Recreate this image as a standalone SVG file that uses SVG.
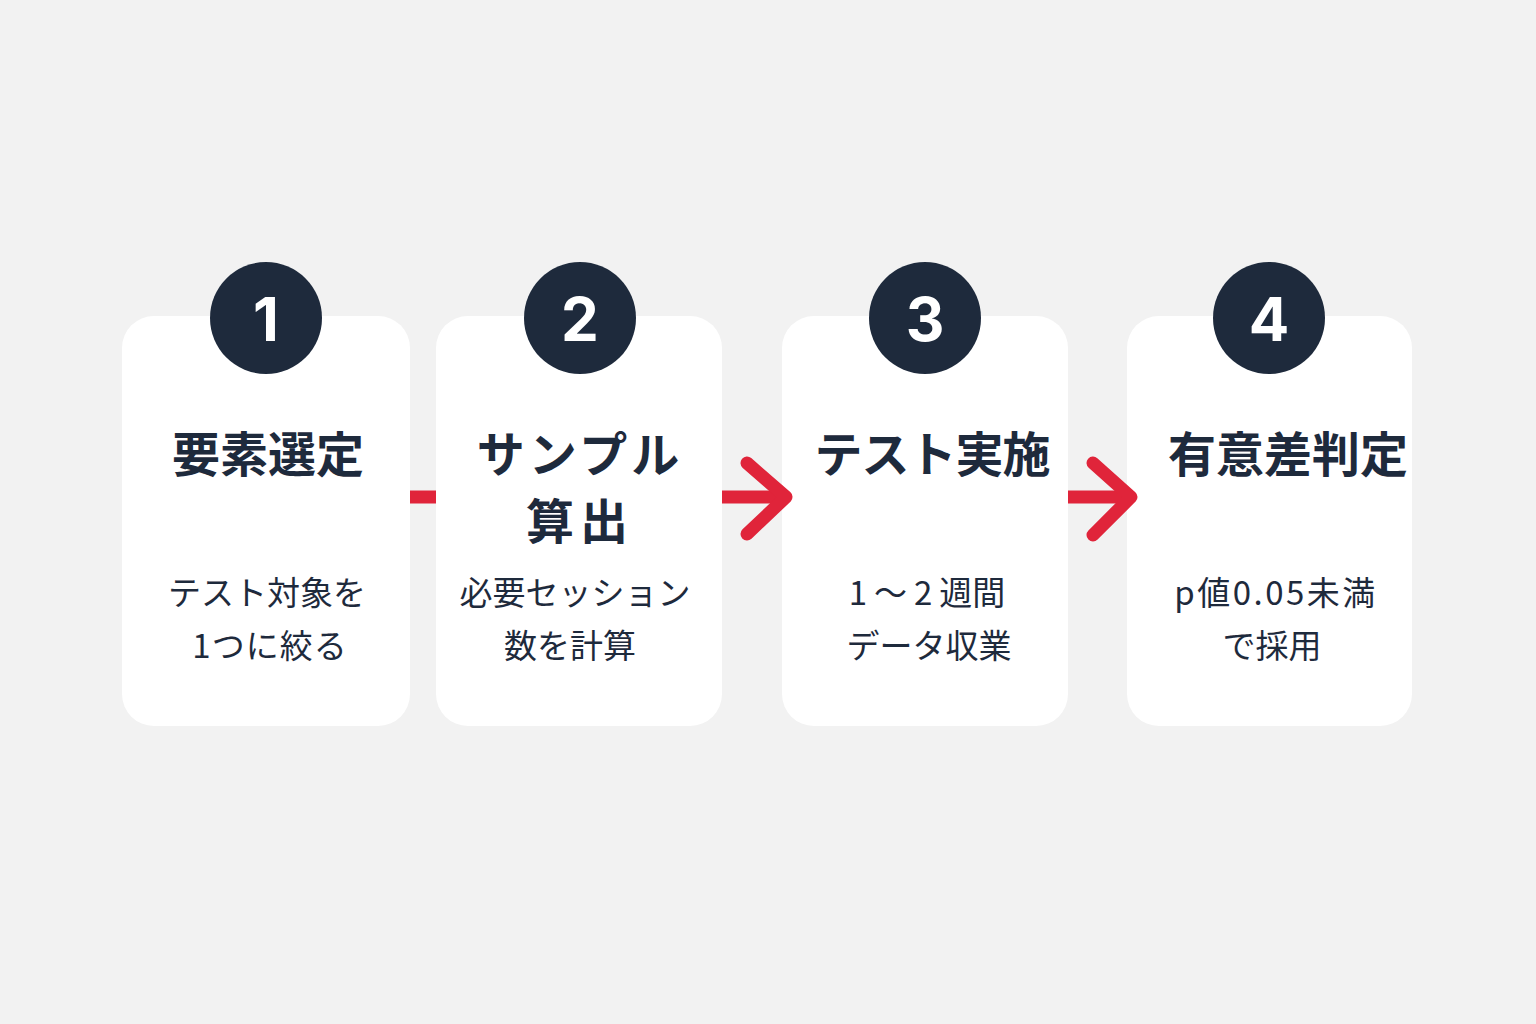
<svg xmlns="http://www.w3.org/2000/svg" width="1536" height="1024" viewBox="0 0 1536 1024">
<style>
.card{fill:#ffffff}
.badge{fill:#1e2a3c}
.num{fill:#ffffff;font-family:"Inter","Noto Sans",sans-serif;font-weight:700;font-size:60px;text-anchor:middle}
.title{fill:#1e2a3c;font-family:"Noto Sans CJK JP",sans-serif;font-weight:700;font-size:48px;text-anchor:middle}
.body{fill:#1e2a3c;font-family:"Noto Sans CJK JP",sans-serif;font-weight:400;font-size:33px;text-anchor:middle}
.conn{fill:none;stroke:#e0243a;stroke-width:13;stroke-linecap:round;stroke-linejoin:round}
</style>
<rect width="1536" height="1024" fill="#f2f2f2"/>
<g id="node1">
<rect class="card" x="122" y="316" width="288" height="410" rx="32"/>
<circle class="badge" cx="266" cy="318" r="56"/>
<text class="num" x="266" y="341">1</text>
<text class="title" x="268" y="472">要素選定</text>
<text class="body" x="267" y="605">テスト対象を</text>
<text class="body" x="270" y="658" letter-spacing="1">1つに絞る</text>
</g>
<g id="node2">
<rect class="card" x="436" y="316" width="286" height="410" rx="32"/>
<circle class="badge" cx="580" cy="318" r="56"/>
<text class="num" x="580" y="341">2</text>
<text class="title" x="580" y="472" letter-spacing="4">サンプル</text>
<text class="title" x="580" y="539" letter-spacing="6">算出</text>
<text class="body" x="575" y="605">必要セッション</text>
<text class="body" x="570" y="658">数を計算</text>
</g>
<g id="node3">
<rect class="card" x="782" y="316" width="286" height="410" rx="32"/>
<circle class="badge" cx="925" cy="318" r="56"/>
<text class="num" x="925" y="341">3</text>
<text class="title" x="932" y="472" letter-spacing="-1">テスト実施</text>
<text class="body" x="927" y="605"><tspan letter-spacing="7">1～2</tspan>週間</text>
<text class="body" x="929" y="658">データ収業</text>
</g>
<g id="node4">
<rect class="card" x="1127" y="316" width="285" height="410" rx="32"/>
<circle class="badge" cx="1269" cy="318" r="56"/>
<text class="num" x="1269" y="341">4</text>
<text class="title" x="1288" y="472">有意差判定</text>
<text class="body" x="1276" y="605" letter-spacing="2.5">p値0.05未満</text>
<text class="body" x="1272" y="658">で採用</text>
</g>
<g id="connectors">
<line class="conn" x1="410" y1="497" x2="436" y2="497" style="stroke-linecap:butt"/>
<line class="conn" x1="722" y1="497" x2="786" y2="497" style="stroke-linecap:butt"/>
<polyline class="conn" points="747,463 786,497 747,534"/>
<line class="conn" x1="1068" y1="497" x2="1131" y2="497" style="stroke-linecap:butt"/>
<polyline class="conn" points="1093,463 1131,497 1093,535"/>
</g>
</svg>
